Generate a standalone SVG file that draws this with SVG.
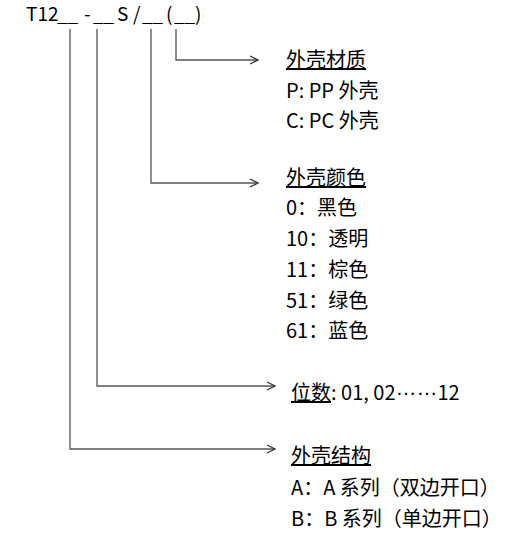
<svg xmlns="http://www.w3.org/2000/svg" width="526" height="546" viewBox="0 0 526 546">
<style>
text{font-family:"Noto Sans CJK SC","Liberation Sans",sans-serif;font-size:20px;fill:#000}
#header text{font-size:19px}
.u{text-decoration:underline}
.d{font-family:"Liberation Sans",sans-serif;font-size:21px;baseline-shift:5px}
.c{fill:none;stroke:#555;stroke-width:1.3}
</style>
<defs>
<marker id="a" markerWidth="10" markerHeight="10" refX="9" refY="5" orient="auto" markerUnits="userSpaceOnUse">
<polyline points="1,1 9,5 1,9" fill="none" stroke="#333" stroke-width="1.2"/>
</marker>
</defs>
<g id="header">
<text x="26" y="21">T12<tspan x="57">__</tspan><tspan x="84">-</tspan><tspan x="93">__</tspan><tspan x="117">S</tspan><tspan x="133">/</tspan><tspan x="142">__</tspan><tspan x="166">(</tspan><tspan x="174">__</tspan><tspan x="195">)</tspan></text>
</g>
<g id="connectors">
<polyline class="c" points="176,29 176,60 258,60" marker-end="url(#a)"/>
<polyline class="c" points="151,29 151,183 258,183" marker-end="url(#a)"/>
<polyline class="c" points="97,29 97,386 275,386" marker-end="url(#a)"/>
<polyline class="c" points="70,29 70,449 275,449" marker-end="url(#a)"/>
</g>
<g id="material">
<text x="286" y="67" class="u">外壳材质</text>
<text x="286" y="98">P: PP 外壳</text>
<text x="286" y="128">C: PC 外壳</text>
</g>
<g id="color">
<text x="286" y="185" class="u">外壳颜色</text>
<text x="286" y="215">0：黑色</text>
<text x="286" y="246">10：透明</text>
<text x="286" y="277">11：棕色</text>
<text x="286" y="308">51：绿色</text>
<text x="286" y="338">61：蓝色</text>
</g>
<g id="digits">
<text x="291" y="400"><tspan class="u">位数</tspan>: 01, 02<tspan class="d">……</tspan>12</text>
</g>
<g id="structure">
<text x="291" y="463" class="u">外壳结构</text>
<text x="291" y="495">A：A 系列（双边开口）</text>
<text x="291" y="526">B：B 系列（单边开口）</text>
</g>
</svg>
